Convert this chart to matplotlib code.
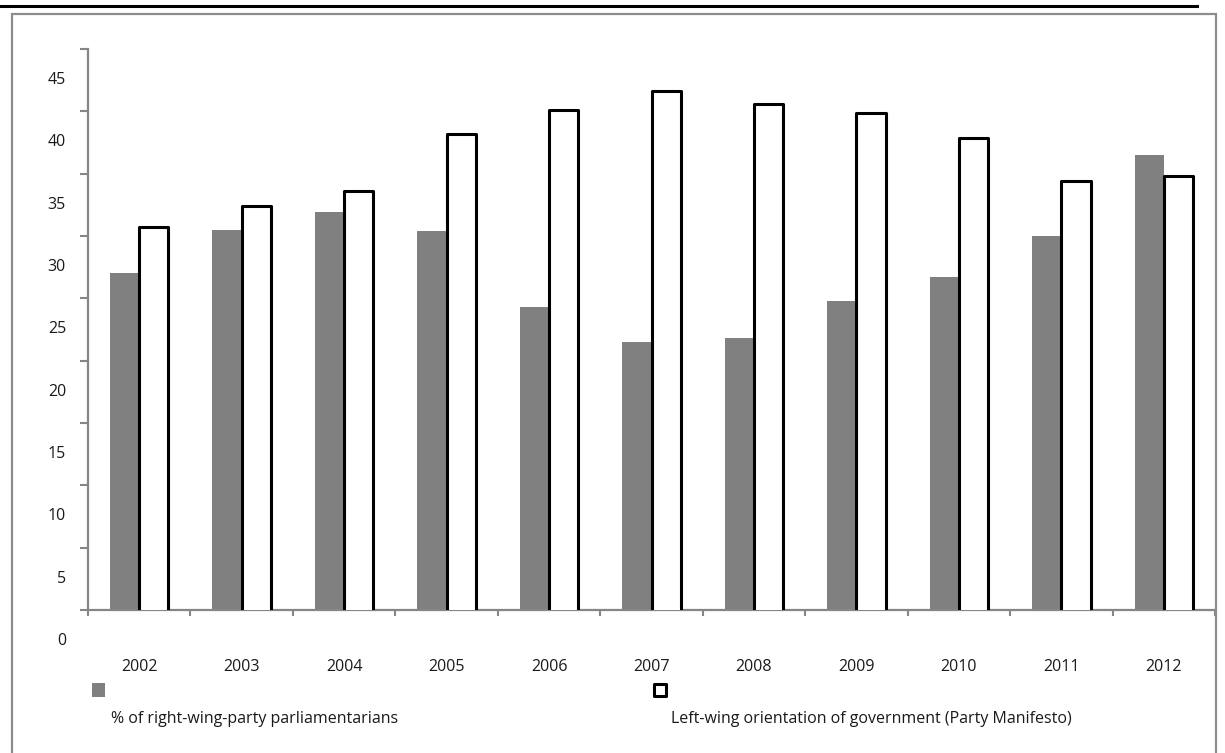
import matplotlib.pyplot as plt
import matplotlib.transforms as mtransforms
from matplotlib.patches import Rectangle
import numpy as np

plt.rcParams['font.family'] = ['Open Sans', 'DejaVu Sans']

years = ['2002', '2003', '2004', '2005', '2006', '2007', '2008', '2009', '2010', '2011', '2012']
right_wing = [29.5, 33.0, 34.4, 32.9, 26.8, 24.0, 24.3, 27.3, 29.2, 32.5, 39.0]
left_gov = [33.2, 34.9, 36.1, 40.7, 42.6, 44.1, 43.1, 42.4, 40.4, 36.9, 37.3]
ylabels = [0, 5, 10, 15, 20, 25, 30, 35, 40, 45]

label_right = '% of right-wing-party parliamentarians'
label_left = 'Left-wing orientation of government (Party Manifesto)'

W, H = 1225, 753
fig = plt.figure(figsize=(W / 100, H / 100), dpi=100)
ax = fig.add_axes([88 / W, 1 - 610 / H, 1127 / W, 561 / H])

axis_grey = '#868686'
txt = '#1a1a1a'
fs = 11.5

x = np.arange(len(years))
bw = 0.285
ax.bar(x - bw / 2, right_wing, bw, bottom=0, color='#808080', edgecolor='none', zorder=2)
ax.bar(x + bw / 2, left_gov, bw, bottom=0, color='white', edgecolor='black',
       linewidth=2.2, joinstyle='round', zorder=3)

# axis runs a half step off the printed labels, as in the source chart
ax.set_ylim(2.5, 47.5)
ax.set_xlim(-0.5, len(years) - 0.5)
ax.set_yticks(np.arange(2.5, 48, 5))
ax.set_yticklabels([])
ax.set_xticks(np.arange(-0.5, len(years), 1))
ax.set_xticklabels([])

for s in ['top', 'right']:
    ax.spines[s].set_visible(False)
for s in ['left', 'bottom']:
    ax.spines[s].set_color(axis_grey)
    ax.spines[s].set_linewidth(1.6)
ax.tick_params(axis='y', direction='out', length=6, width=1.5, color=axis_grey)
ax.tick_params(axis='x', direction='out', length=4, width=1.5, color=axis_grey)

ytrans = mtransforms.blended_transform_factory(ax.transAxes, ax.transData)
for v in ylabels:
    ax.text(-0.0195, v, str(v), transform=ytrans, ha='right', va='center',
            fontsize=fs, color=txt, clip_on=False)

xtrans = mtransforms.blended_transform_factory(ax.transData, ax.transAxes)
for i, yr in enumerate(years):
    ax.text(i, -0.1016, yr, transform=xtrans, ha='center', va='center',
            fontsize=fs, color=txt, clip_on=False)

# legend: marker above its text
def px(xp, yp):
    return xp / W, 1 - yp / H

fig.patches.append(Rectangle(px(92, 697), 13 / W, 14 / H, transform=fig.transFigure,
                             facecolor='#808080', edgecolor='none'))
fig.patches.append(Rectangle(px(654, 696), 12 / W, 12 / H, transform=fig.transFigure,
                             facecolor='white', edgecolor='black', linewidth=2.2,
                             joinstyle='round'))
fig.text(*px(111, 719), label_right, ha='left', va='center', fontsize=fs, color=txt)
fig.text(*px(671, 719), label_left, ha='left', va='center', fontsize=fs, color=txt)

# outer frame and rule at the top
fig.patches.append(Rectangle(px(12, 760), 1204 / W, 746 / H, transform=fig.transFigure,
                             facecolor='none', edgecolor='#8c8c8c', linewidth=1.6))
fig.lines.append(plt.Line2D([0, 1197 / W], [1 - 5.5 / H] * 2, transform=fig.transFigure,
                            color='black', linewidth=2.2))

fig.savefig('out.png', dpi=100)
